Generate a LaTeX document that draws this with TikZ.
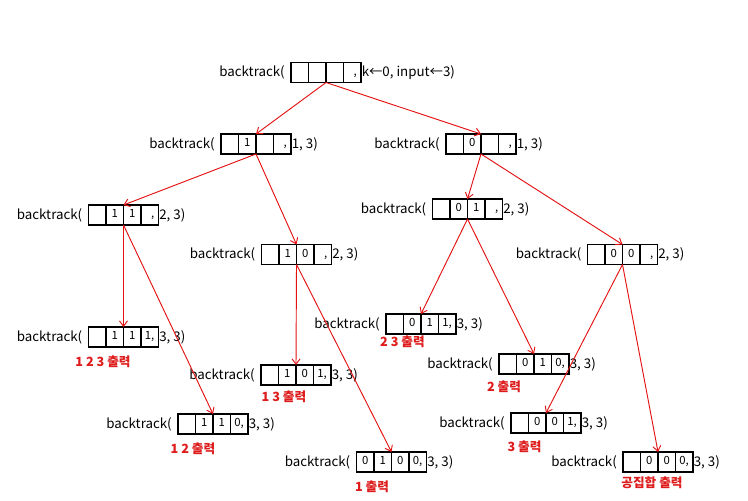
\documentclass[tikz,border=0pt]{standalone}
\usepackage{fontspec}
\setmainfont{Noto Sans CJK KR}
\usetikzlibrary{arrows.meta}
\definecolor{linered}{RGB}{228,18,18}
\definecolor{outred}{RGB}{222,28,28}

% One call of backtrack: the label, a four-cell array and the remaining arguments
\newcommand\callnode[8]{%
  \begin{scope}[shift={(#2,#3)}]
    \node[arr] (#1) at (0,0) {};
    \draw[boxline] (-17.5,-10) -- (-17.5,10) (0,-10) -- (0,10) (17.5,-10) -- (17.5,10);
    \node[cell] (#1-a) at (-26.25,0) {#4};
    \node[cell] (#1-b) at (-8.75,0) {#5};
    \node[cell] (#1-c) at (8.75,0) {#6};
    \node[cell, anchor=east] (#1-d) at (31,0) {#7};
    \node[call, anchor=east] (#1-l) at (-41,1) {backtrack(};
    \node[call, anchor=west] (#1-r) at (35.5,1) {#8};
  \end{scope}}

\begin{document}
\begin{tikzpicture}[x=0.75pt,y=-0.75pt,
  boxline/.style={line width=0.8pt},
  arr/.style={draw, line width=0.8pt, minimum width=52.5pt, minimum height=15pt, inner sep=0pt, outer sep=0pt},
  call/.style={font=\fontsize{10}{12}\selectfont, inner sep=0pt, text height=7.3pt, text depth=2.1pt},
  cell/.style={font=\fontsize{8.5}{10}\selectfont, inner sep=0pt, text height=6.2pt, text depth=1.8pt},
  outlbl/.style={text=outred, font=\bfseries\fontsize{9.5}{11}\selectfont, inner sep=0pt},
  edge/.style={draw=linered, line width=0.7pt, -{Straight Barb[length=4pt,width=6pt]}}
]
\fill[white] (0,0) rectangle (748,500);
\useasboundingbox (0,0) rectangle (748,500);

% calls of the recursion tree
\callnode{root}{326}{72.5}{}{}{}{,}{k←0, input←3)}
\callnode{a}{256}{144}{}{1}{}{,}{1, 3)}
\callnode{b}{481}{144}{}{0}{}{,}{1, 3)}
\callnode{aa}{123.5}{215}{}{1}{1}{,}{2, 3)}
\callnode{ab}{296.5}{254.5}{}{1}{0}{,}{2, 3)}
\callnode{ba}{467.5}{209}{}{0}{1}{,}{2, 3)}
\callnode{bb}{622.5}{254.5}{}{0}{0}{,}{2, 3)}
\callnode{aaa}{123.5}{337}{}{1}{1}{1,}{3, 3)}
\callnode{aab}{213}{424}{}{1}{1}{0,}{3, 3)}
\callnode{aba}{296}{375}{}{1}{0}{1,}{3, 3)}
\callnode{abb}{391.5}{462}{0}{1}{0}{0,}{3, 3)}
\callnode{baa}{421}{324}{}{0}{1}{1,}{3, 3)}
\callnode{bab}{534}{364}{}{0}{1}{0,}{3, 3)}
\callnode{bba}{546}{423}{}{0}{0}{1,}{3, 3)}
\callnode{bbb}{658}{462}{}{0}{0}{0,}{3, 3)}

% printed subsets
\node[outlbl] (aaa-out) at (103,362) {1 2 3 출력};
\node[outlbl] (aab-out) at (193,449) {1 2 출력};
\node[outlbl] (aba-out) at (284,397) {1 3 출력};
\node[outlbl] (abb-out) at (372,487) {1 출력};
\node[outlbl] (baa-out) at (402.5,342) {2 3 출력};
\node[outlbl] (bab-out) at (504,387) {2 출력};
\node[outlbl] (bba-out) at (524.5,447) {3 출력};
\node[outlbl] (bbb-out) at (652,483) {공집합 출력};

% recursive calls
\draw[edge] (root.south) -- (a.north);
\draw[edge] (root.south) -- (b.north);
\draw[edge] (a.south) -- (aa.north);
\draw[edge] (a.south) -- (ab.north);
\draw[edge] (b.south) -- (ba.north);
\draw[edge] (b.south) -- (bb.north);
\draw[edge] (aa.south) -- (aaa.north);
\draw[edge] (aa.south) -- (aab.north);
\draw[edge] (ab.south) -- (aba.north);
\draw[edge] (ab.south) -- (abb.north);
\draw[edge] (ba.south) -- (baa.north);
\draw[edge] (ba.south) -- (bab.north);
\draw[edge] (bb.south) -- (bba.north);
\draw[edge] (bb.south) -- (bbb.north);
\end{tikzpicture}
\end{document}
